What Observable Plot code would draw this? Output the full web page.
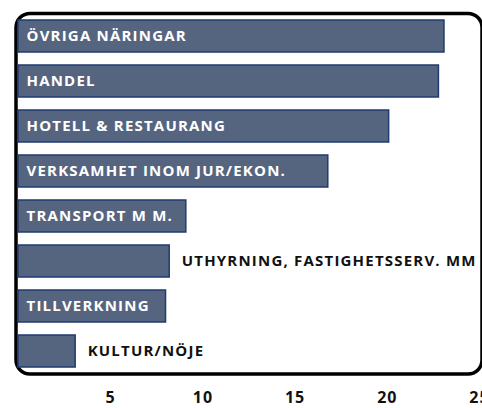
<!DOCTYPE html>
<html><head><meta charset="utf-8">
<script src="https://cdn.jsdelivr.net/npm/d3@7"></script>
<script src="https://cdn.jsdelivr.net/npm/@observablehq/plot@0.6"></script>
<style>
html,body{margin:0;padding:0;background:#fff;}
#chart svg{display:block;}
#chart svg .lbl text{letter-spacing:1.2px;}
#chart svg text{letter-spacing:1px;}
</style>
</head><body><div id="chart"></div>
<script>
const categories = [
  "ÖVRIGA NÄRINGAR",
  "HANDEL",
  "HOTELL & RESTAURANG",
  "VERKSAMHET INOM JUR/EKON.",
  "TRANSPORT M M.",
  "UTHYRNING, FASTIGHETSSERV. MM",
  "TILLVERKNING",
  "KULTUR/NÖJE"
];
const values = [23.1, 22.8, 20.1, 16.8, 9.1, 8.2, 8.0, 3.1];
const xTicks = [5, 10, 15, 20, 25];

const data = categories.map((c, i) => ({
  category: c,
  value: values[i],
  inside: c.length * 0.5 + 1 < values[i]
}));

const font = "'Open Sans', Lato, sans-serif";

const chart = Plot.plot({
  width: 482,
  height: 408,
  marginLeft: 18,
  marginRight: 3,
  marginTop: 5,
  marginBottom: 27,
  style: {fontFamily: font, background: "#fff"},
  x: {domain: [0, 25], axis: null},
  y: {domain: categories, padding: 0.29, axis: null},
  marks: [
    Plot.frame({stroke: "#000", strokeWidth: 3.5, rx: 14,
      insetLeft: -2.5, insetRight: -2.5, insetTop: 8, insetBottom: 7.5}),
    Plot.barX(data, {x: "value", y: "category", fill: "#56657f", stroke: "#1f3b70", strokeWidth: 1.5}),
    Plot.text(data.filter(d => d.inside), {
      x: 0, y: "category", text: "category", textAnchor: "start", dx: 8,
      fill: "#fff", fontWeight: "bold", fontSize: 15, className: "lbl"
    }),
    Plot.text(data.filter(d => !d.inside), {
      x: "value", y: "category", text: "category", textAnchor: "start", dx: 12,
      fill: "#111", fontWeight: "bold", fontSize: 15, className: "lbl"
    }),
    Plot.axisX({ticks: xTicks, tickSize: 0, tickPadding: 10.5, fontSize: 16,
      fontWeight: "bold", fill: "#111", label: null, tickFormat: d => String(d)})
  ]
});
document.getElementById("chart").appendChild(chart);
</script>
</body></html>
